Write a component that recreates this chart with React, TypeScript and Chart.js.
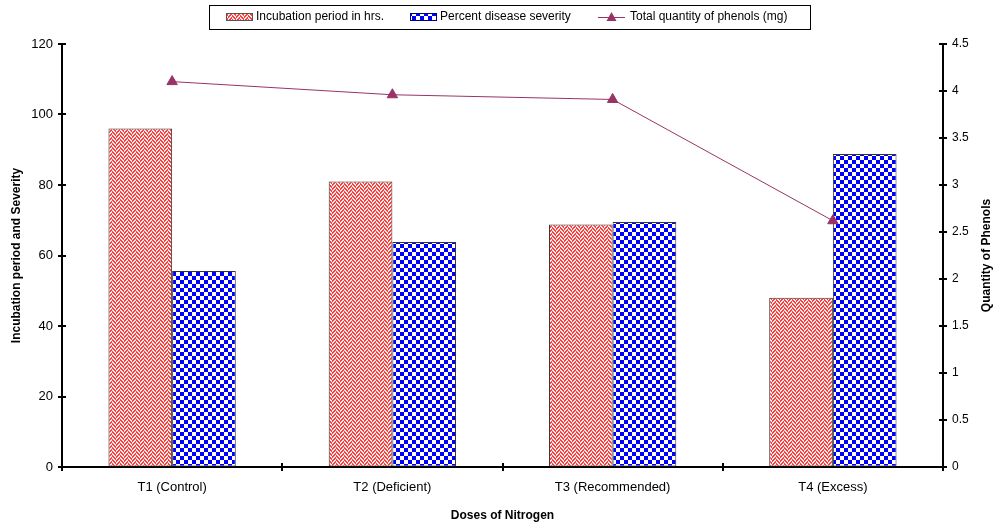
import React, { useEffect, useRef } from "react";
import { Chart, registerables } from "chart.js";

Chart.register(...registerables);

const categories = ["T1 (Control)", "T2 (Deficient)", "T3 (Recommended)", "T4 (Excess)"];
const incubation = [96, 81, 68.8, 48];
const severity = [55.6, 63.8, 69.5, 88.8];
const phenols = [4.1, 3.96, 3.91, 2.62];
const seriesNames = ["Incubation period in hrs.", "Percent disease severity", "Total quantity of phenols (mg)"];

const FONT = '"Liberation Sans", Arial, sans-serif';
const LINE_COLOR = "#993366";

function makePattern(on: (r: number, c: number) => boolean, color: string, bg: string): CanvasPattern | string {
  const c = document.createElement("canvas");
  c.width = 8;
  c.height = 8;
  const ctx = c.getContext("2d");
  if (!ctx) return color;
  ctx.fillStyle = bg;
  ctx.fillRect(0, 0, 8, 8);
  ctx.fillStyle = color;
  for (let r = 0; r < 8; r++) {
    for (let col = 0; col < 8; col++) {
      if (on(r, col)) ctx.fillRect(col, r, 1, 1);
    }
  }
  const p = ctx.createPattern(c, "repeat");
  return p || color;
}

export default function App() {
  const ref = useRef<HTMLCanvasElement | null>(null);

  useEffect(() => {
    if (!ref.current) return;
    const redPat = makePattern(
      (r, c) => (c < 4 ? ((c - r + 8) % 4 < 2) : ((c + r) % 4 < 2)),
      "#ff3c3c",
      "#ffeaea"
    );
    const bluePat = makePattern((r, c) => (r < 4) !== (c < 4), "#0000ff", "#ffffff");

    const crossTicks = {
      id: "crossTicks",
      afterDraw(chart: any) {
        const ctx = chart.ctx;
        const ca = chart.chartArea;
        ctx.save();
        ctx.strokeStyle = "#000";
        ctx.lineWidth = 2;
        const ys = chart.scales.y;
        ys.ticks.forEach((_t: any, i: number) => {
          const py = Math.round(ys.getPixelForTick(i));
          ctx.beginPath();
          ctx.moveTo(ca.left - 4, py);
          ctx.lineTo(ca.left + 4, py);
          ctx.stroke();
        });
        const y2 = chart.scales.y2;
        y2.ticks.forEach((_t: any, i: number) => {
          const py = Math.round(y2.getPixelForTick(i));
          ctx.beginPath();
          ctx.moveTo(ca.right - 4, py);
          ctx.lineTo(ca.right + 4, py);
          ctx.stroke();
        });
        const n = categories.length;
        for (let i = 0; i <= n; i++) {
          const px = Math.round(ca.left + (i * (ca.right - ca.left)) / n);
          ctx.beginPath();
          ctx.moveTo(px, ca.bottom - 4);
          ctx.lineTo(px, ca.bottom + 4);
          ctx.stroke();
        }
        ctx.fillStyle = "#000";
        ctx.font = "bold 12px " + FONT;
        ctx.textAlign = "center";
        ctx.textBaseline = "middle";
        ctx.translate(987, (ca.top + ca.bottom) / 2);
        ctx.rotate(-Math.PI / 2);
        ctx.fillText("Quantity of Phenols", 0, 0);
        ctx.restore();
      },
    };

    const boxLegend = {
      id: "boxLegend",
      afterDraw(chart: any) {
        const ctx = chart.ctx;
        ctx.save();
        ctx.strokeStyle = "#000";
        ctx.lineWidth = 1;
        ctx.strokeRect(209.5, 5.5, 601, 24);
        const cy = 17;
        ctx.fillStyle = redPat as any;
        ctx.fillRect(226, 13, 27, 8);
        ctx.strokeStyle = "#555";
        ctx.strokeRect(226.5, 13.5, 26, 7);
        ctx.fillStyle = bluePat as any;
        ctx.fillRect(410, 13, 27, 8);
        ctx.strokeStyle = "#00007f";
        ctx.strokeRect(410.5, 13.5, 26, 7);
        ctx.strokeStyle = LINE_COLOR;
        ctx.beginPath();
        ctx.moveTo(598, cy + 0.5);
        ctx.lineTo(625, cy + 0.5);
        ctx.stroke();
        ctx.fillStyle = LINE_COLOR;
        ctx.beginPath();
        ctx.moveTo(611.5, 12);
        ctx.lineTo(606.5, 21);
        ctx.lineTo(616.5, 21);
        ctx.closePath();
        ctx.fill();
        ctx.fillStyle = "#000";
        ctx.font = "12px " + FONT;
        ctx.textBaseline = "middle";
        ctx.textAlign = "left";
        ctx.fillText(seriesNames[0], 256, cy);
        ctx.fillText(seriesNames[1], 440, cy);
        ctx.fillText(seriesNames[2], 630, cy);
        ctx.restore();
      },
    };

    const chart = new Chart(ref.current, {
      type: "bar",
      data: {
        labels: categories,
        datasets: [
          {
            type: "line",
            label: seriesNames[2],
            data: phenols,
            yAxisID: "y2",
            borderColor: LINE_COLOR,
            backgroundColor: LINE_COLOR,
            borderWidth: 1,
            pointStyle: "triangle",
            pointRadius: 6,
            pointBackgroundColor: LINE_COLOR,
            pointBorderColor: LINE_COLOR,
            tension: 0,
            order: 0,
          } as any,
          {
            type: "bar",
            label: seriesNames[0],
            data: incubation,
            yAxisID: "y",
            backgroundColor: redPat as any,
            borderColor: "#333",
            borderWidth: 1,
            borderSkipped: false,
            categoryPercentage: 0.578,
            barPercentage: 1,
            order: 1,
          },
          {
            type: "bar",
            label: seriesNames[1],
            data: severity,
            yAxisID: "y",
            backgroundColor: bluePat as any,
            borderColor: "#333",
            borderWidth: 1,
            borderSkipped: false,
            categoryPercentage: 0.578,
            barPercentage: 1,
            order: 1,
          },
        ],
      },
      options: {
        responsive: false,
        animation: false,
        devicePixelRatio: 1,
        layout: { padding: { top: 44, left: 0, right: 0, bottom: 0 } },
        plugins: {
          legend: { display: false },
          tooltip: { enabled: false },
        },
        scales: {
          x: {
            grid: { display: true, drawOnChartArea: false, drawTicks: false, offset: true },
            border: { color: "#000", width: 2 },
            ticks: { color: "#000", font: { family: FONT, size: 13 }, padding: 13 },
            title: {
              display: true,
              text: "Doses of Nitrogen",
              color: "#000",
              font: { family: FONT, size: 12, weight: "bold" },
              padding: { top: 0, bottom: 4 },
            },
            afterFit: (s: any) => {
              s.height = 60;
            },
          },
          y: {
            position: "left",
            min: 0,
            max: 120,
            grid: { display: true, drawOnChartArea: false, drawTicks: false },
            border: { color: "#000", width: 2 },
            ticks: { stepSize: 20, color: "#000", font: { family: FONT, size: 13 }, padding: 9 },
            title: {
              display: true,
              text: "Incubation period and Severity",
              color: "#000",
              font: { family: FONT, size: 12, weight: "bold" },
              padding: { top: 9, bottom: 0 },
            },
            afterFit: (s: any) => {
              s.width = 62;
            },
          },
          y2: {
            position: "right",
            min: 0,
            max: 4.5,
            grid: { display: true, drawOnChartArea: false, drawTicks: false },
            border: { color: "#000", width: 2 },
            ticks: {
              stepSize: 0.5,
              color: "#000",
              font: { family: FONT, size: 12 },
              padding: 9,
              callback: (v: any) => String(Number(v)),
            },
            title: { display: false },
            afterFit: (s: any) => {
              s.width = 52;
            },
          },
        },
      } as any,
      plugins: [crossTicks, boxLegend],
    });
    return () => chart.destroy();
  }, []);

  return (
    <div style={{ position: "fixed", left: 0, top: 0, width: 995, height: 527, background: "#fff" }}>
      <canvas ref={ref} width={995} height={527} style={{ display: "block" }} />
    </div>
  );
}
